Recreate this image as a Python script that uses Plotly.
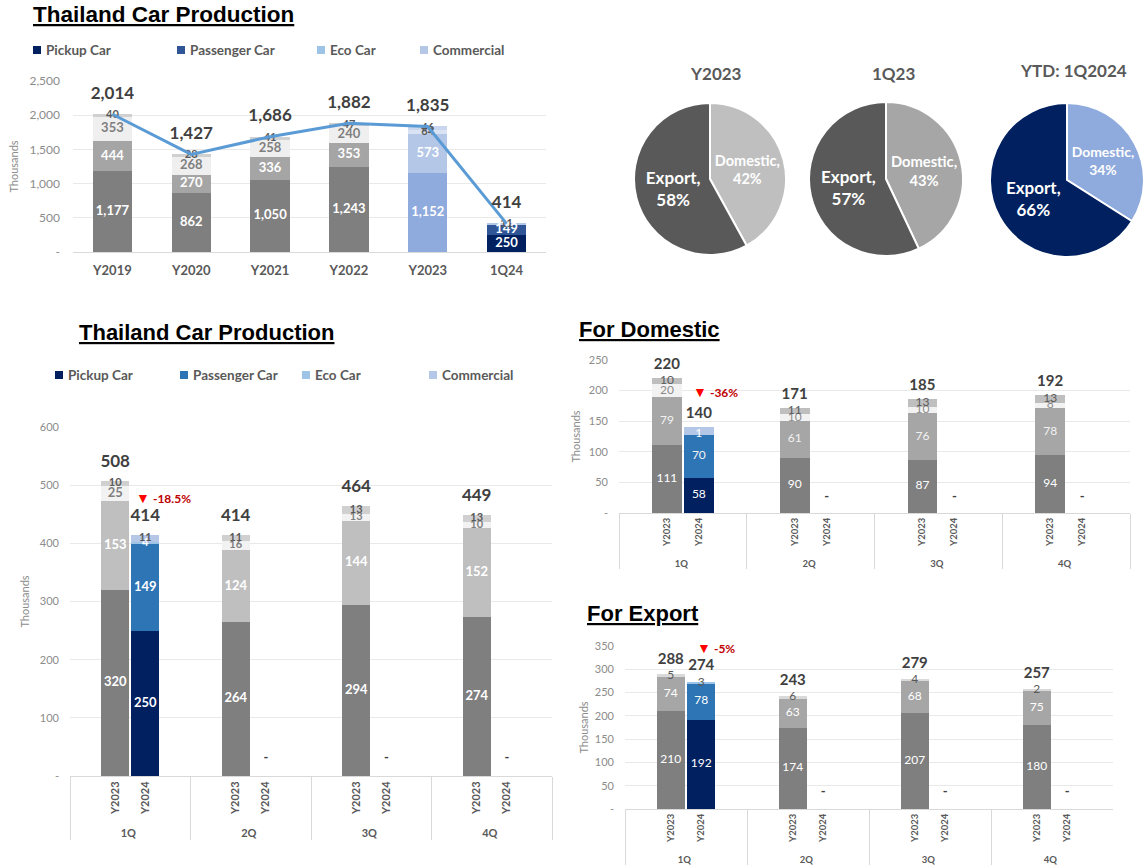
import plotly.graph_objects as go

# figure fills the whole 1145x868 window (body margin removed after plotting)
OX, OY = 0, 0
FW, FH = 1145, 868
FONT = "Lato"
TITLE_FONT = "Liberation Sans"

# ---------------- data ----------------
ANNUAL_CATS = ["Y2019", "Y2020", "Y2021", "Y2022", "Y2023", "1Q24"]
annual_pickup = [1177, 862, 1050, 1243, 1152, 250]
annual_passenger = [444, 270, 336, 353, 573, 149]
annual_eco = [353, 268, 258, 240, 64, 4]
annual_commercial = [40, 28, 41, 47, 46, 11]
annual_total = [2014, 1427, 1686, 1882, 1835, 414]
annual_yticks = [0, 500, 1000, 1500, 2000, 2500]
annual_yticktext = ["-", "500", "1,000", "1,500", "2,000", "2,500"]

QUARTERS = ["1Q", "2Q", "3Q", "4Q"]
YEARS = ["Y2023", "Y2024"]

prod_pickup_2023 = [320, 264, 294, 274]
prod_pickup_2024 = [250, 0, 0, 0]
prod_passenger_2023 = [153, 124, 144, 152]
prod_passenger_2024 = [149, 0, 0, 0]
prod_eco_2023 = [25, 16, 13, 10]
prod_eco_2024 = [4, 0, 0, 0]
prod_commercial_2023 = [10, 11, 13, 13]
prod_commercial_2024 = [11, 0, 0, 0]
prod_total_2023 = [508, 414, 464, 449]
prod_total_2024 = [414, None, None, None]
prod_yticks = [0, 100, 200, 300, 400, 500, 600]
prod_yticktext = ["-", "100", "200", "300", "400", "500", "600"]

dom_pickup_2023 = [111, 90, 87, 94]
dom_pickup_2024 = [58, 0, 0, 0]
dom_passenger_2023 = [79, 61, 76, 78]
dom_passenger_2024 = [70, 0, 0, 0]
dom_eco_2023 = [20, 10, 10, 8]
dom_eco_2024 = [1, 0, 0, 0]
dom_commercial_2023 = [10, 11, 13, 13]
dom_commercial_2024 = [11, 0, 0, 0]
dom_total_2023 = [220, 171, 185, 192]
dom_total_2024 = [140, None, None, None]
dom_yticks = [0, 50, 100, 150, 200, 250]
dom_yticktext = ["-", "50", "100", "150", "200", "250"]

exp_pickup_2023 = [210, 174, 207, 180]
exp_pickup_2024 = [192, 0, 0, 0]
exp_passenger_2023 = [74, 63, 68, 75]
exp_passenger_2024 = [78, 0, 0, 0]
exp_other_2023 = [5, 6, 4, 2]
exp_other_2024 = [3, 0, 0, 0]
exp_total_2023 = [288, 243, 279, 257]
exp_total_2024 = [274, None, None, None]
exp_yticks = [0, 50, 100, 150, 200, 250, 300, 350]
exp_yticktext = ["-", "50", "100", "150", "200", "250", "300", "350"]

PIE_LABELS = ["Domestic", "Export"]
PIE_TITLES = ["Y2023", "1Q23", "YTD: 1Q2024"]
pie_y2023 = [42, 58]
pie_1q23 = [43, 57]
pie_ytd_1q24 = [34, 66]

SERIES_NAMES = ["Pickup Car", "Passenger Car", "Eco Car", "Commercial"]
LEGEND1_COLORS = ["#002060", "#2f5597", "#9dc3e6", "#b4c7e7"]
LEGEND2_COLORS = ["#002060", "#2e75b6", "#9dc3e6", "#b4c7e7"]

CHANGE_PROD = "-18.5%"
CHANGE_DOM = "-36%"
CHANGE_EXP = "-5%"


# ---------------- helpers (reference pixels -> paper) ----------------
def px(x):
    return (x - OX) / FW


def py(y):
    return 1 - (y - OY) / FH


def dx(a, b):
    return [max(0.0, px(a)), min(1.0, px(b))]


def dy(top, bottom):
    return [max(0.0, py(bottom)), min(1.0, py(top))]


fig = go.Figure()


def add_stack(xa, ya, x, series, width, lsize, lweight, small, hide=()):
    n = len(series[0][0])
    base = [0] * n
    for k, (vals, cols, lcols) in enumerate(series):
        fig.add_trace(go.Bar(
            x=x, y=vals, width=width, xaxis=xa, yaxis=ya,
            marker=dict(color=cols, line=dict(width=0)),
            showlegend=False, hoverinfo="skip"))
        mids = [b + (v or 0) / 2 for b, v in zip(base, vals)]
        texts = [f"{v:,}" if v else "" for v in vals]
        sizes = [lsize if (v or 0) >= small else lsize - 2 for v in vals]
        for (si, ii) in hide:
            if si == k:
                texts[ii] = ""
        fig.add_trace(go.Scatter(
            x=x, y=mids, mode="text", text=texts, xaxis=xa, yaxis=ya, cliponaxis=False,
            textfont=dict(color=lcols, size=sizes, family=FONT, weight=lweight),
            showlegend=False, hoverinfo="skip"))
        base = [b + (v or 0) for b, v in zip(base, vals)]


def add_totals(xa, ya, x, totals, size, lift):
    fig.add_trace(go.Scatter(
        x=x, y=totals, mode="markers+text", textposition="top center", cliponaxis=False,
        marker=dict(size=lift, color="rgba(0,0,0,0)"),
        text=[f"{t:,}" if t is not None else "" for t in totals],
        textfont=dict(color="#404040", size=size, family=FONT, weight="bold"),
        xaxis=xa, yaxis=ya, showlegend=False, hoverinfo="skip"))


# ---------------- top-left annual chart ----------------
nA = len(ANNUAL_CATS)
g4 = nA - 2
annual_series = [
    (annual_pickup, ["#7f7f7f"] * g4 + ["#8faadc", "#002060"], ["white"] * nA),
    (annual_passenger, ["#a5a5a5"] * g4 + ["#b4c7e7", "#2f5597"], ["white"] * nA),
    (annual_eco, ["#efefef"] * g4 + ["#dae3f3", "#9dc3e6"], ["#7f7f7f"] * g4 + ["#595959", "white"]),
    (annual_commercial, ["#d0d0d0"] * g4 + ["#c9d6ee", "#b4c7e7"], ["#595959"] * nA),
]
add_stack("x", "y", ANNUAL_CATS, annual_series, 0.5, 13, "bold", 100, hide=((2, nA - 1),))
fig.add_trace(go.Scatter(x=ANNUAL_CATS, y=annual_total, mode="lines",
                         line=dict(color="#5b9bd5", width=3),
                         xaxis="x", yaxis="y", showlegend=False, hoverinfo="skip"))
add_totals("x", "y", ANNUAL_CATS, annual_total, 17, 16)

# ---------------- quarterly charts (multicategory) ----------------
pad_outer = [q for q in QUARTERS for _ in range(4)]
pad_inner = [" ", YEARS[0], YEARS[1], "  "] * len(QUARTERS)
qx = [QUARTERS + QUARTERS, [YEARS[0]] * 4 + [YEARS[1]] * 4]
zero_x = [QUARTERS[1:], [YEARS[1]] * 3]

quarter_charts = [
    ("x2", "y2", [
        (prod_pickup_2023 + prod_pickup_2024, ["#7f7f7f"] * 4 + ["#002060"] * 4, ["white"] * 8),
        (prod_passenger_2023 + prod_passenger_2024, ["#bfbfbf"] * 4 + ["#2e75b6"] * 4, ["white"] * 8),
        (prod_eco_2023 + prod_eco_2024, ["#f2f2f2"] * 4 + ["#9dc3e6"] * 4, ["#7f7f7f"] * 4 + ["white"] * 4),
        (prod_commercial_2023 + prod_commercial_2024, ["#d0d0d0"] * 4 + ["#b4c7e7"] * 4, ["#595959"] * 8),
    ], prod_total_2023 + prod_total_2024, 13, "bold", 17, 14, 600, 0.05, 20, ()),
    ("x3", "y3", [
        (dom_pickup_2023 + dom_pickup_2024, ["#7f7f7f"] * 4 + ["#002060"] * 4, ["white"] * 8),
        (dom_passenger_2023 + dom_passenger_2024, ["#a6a6a6"] * 4 + ["#2e75b6"] * 4, ["#f2f2f2"] * 8),
        (dom_eco_2023 + dom_eco_2024, ["#f2f2f2"] * 4 + ["#b4c7e7"] * 4, ["#8c8c8c"] * 4 + ["white"] * 4),
        (dom_commercial_2023 + dom_commercial_2024, ["#bfbfbf"] * 4 + ["#b4c7e7"] * 4, ["#595959"] * 8),
    ], dom_total_2023 + dom_total_2024, 12, "normal", 15, 8, 250, 0.1, 0, ((3, 4),)),
    ("x4", "y4", [
        (exp_pickup_2023 + exp_pickup_2024, ["#7f7f7f"] * 4 + ["#002060"] * 4, ["white"] * 8),
        (exp_passenger_2023 + exp_passenger_2024, ["#a6a6a6"] * 4 + ["#2e75b6"] * 4, ["white"] * 8),
        (exp_other_2023 + exp_other_2024, ["#d9d9d9"] * 4 + ["#9dc3e6"] * 4, ["#595959"] * 8),
    ], exp_total_2023 + exp_total_2024, 12, "normal", 15, 10, 350, 0.1, 0, ()),
]

for xa, ya, series, totals, lsize, lweight, tsize, lift, ymax, dash_frac, small, hide in quarter_charts:
    fig.add_trace(go.Scatter(x=[pad_outer, pad_inner], y=[None] * len(pad_outer),
                             mode="markers", xaxis=xa, yaxis=ya,
                             showlegend=False, hoverinfo="skip"))
    add_stack(xa, ya, qx, series, 0.93, lsize, lweight, small, hide)
    add_totals(xa, ya, qx, totals, tsize, lift)
    fig.add_trace(go.Scatter(x=zero_x, y=[ymax * dash_frac] * 3, mode="text",
                             text=["-"] * 3, cliponaxis=False,
                             textfont=dict(color="#404040", size=13, family=FONT, weight="bold"),
                             xaxis=xa, yaxis=ya, showlegend=False, hoverinfo="skip"))

# ---------------- pies ----------------
pie_specs = [
    (pie_y2023, ["#bfbfbf", "#595959"], (710, 179, 76)),
    (pie_1q23, ["#a6a6a6", "#595959"], (886, 179, 77)),
    (pie_ytd_1q24, ["#8faadc", "#002060"], (1067, 180, 77)),
]
for vals, cols, (cx, cy, r) in pie_specs:
    fig.add_trace(go.Pie(
        labels=PIE_LABELS, values=vals, sort=False, direction="clockwise", rotation=0,
        domain=dict(x=dx(cx - r, cx + r), y=dy(cy - r, cy + r)),
        marker=dict(colors=cols, line=dict(color="white", width=2)),
        texttemplate="%{label},<br>%{value}%", textposition="inside",
        insidetextorientation="horizontal",
        textfont=dict(color="white", size=17, family=FONT, weight="bold"),
        showlegend=False, hoverinfo="skip"))

# ---------------- axes ----------------
tickfont_y = dict(size=11, color="#8c8c8c", family=FONT)
grid = "#e9e9e9"


def ytitle(standoff):
    return dict(text="Thousands", standoff=standoff,
                font=dict(size=11, color="#8c8c8c", family=FONT))


fig.update_layout(
    width=FW, height=FH,
    margin=dict(l=0, r=0, t=0, b=0, pad=0, autoexpand=False),
    paper_bgcolor="white", plot_bgcolor="white",
    barmode="stack", showlegend=False,
    font=dict(family=FONT, color="#595959"),
    xaxis=dict(domain=dx(73, 546), type="category", range=[-0.5, nA - 0.5],
               showline=True, linecolor="#d9d9d9", ticks="", automargin=False,
               ticklabelstandoff=6,
               tickfont=dict(size=13, color="#595959", family=FONT, weight="bold"),
               showgrid=False, fixedrange=True),
    yaxis=dict(domain=dy(81, 252), range=[0, 2500], tickvals=annual_yticks,
               ticktext=annual_yticktext, gridcolor=grid, zeroline=False, automargin=False,
               tickfont=dict(size=12, color="#8c8c8c", family=FONT),
               ticklabelstandoff=12, title=ytitle(8), anchor="x"),
)

for xa, ya, xdom, ydom, ymax, tv, tt, ts, xfs in [
    ("xaxis2", "yaxis2", dx(70, 552), dy(427, 776), 600, prod_yticks, prod_yticktext, 8, 11),
    ("xaxis3", "yaxis3", dx(619, 1130), dy(360, 513), 250, dom_yticks, dom_yticktext, 6, 9.5),
    ("xaxis4", "yaxis4", dx(625, 1113), dy(646, 809), 350, exp_yticks, exp_yticktext, 4, 9.5),
]:
    n = xa[-1]
    fig.update_layout({
        xa: dict(domain=xdom, type="multicategory", range=[-0.5, 15.5], anchor="y" + n,
                 showline=True, linecolor="#d9d9d9", ticks="", tickangle=-90,
                 showdividers=True, dividercolor="#d9d9d9", dividerwidth=1,
                 automargin=False,
                 tickfont=dict(size=xfs, color="#595959", family=FONT, weight="bold"),
                 showgrid=False),
        ya: dict(domain=ydom, range=[0, ymax], tickvals=tv, ticktext=tt, anchor="x" + n,
                 gridcolor=grid, zeroline=False, tickfont=tickfont_y, automargin=False,
                 ticklabelstandoff=10, title=ytitle(ts)),
    })

# ---------------- legends (colour squares + names) ----------------
shapes = []
annotations = []


def legend_row(y, square_xs, colors, size):
    for name, col, sx in zip(SERIES_NAMES, colors, square_xs):
        shapes.append(dict(type="rect", xref="paper", yref="paper",
                           x0=px(sx - 4), x1=px(sx + 4), y0=py(y + 4), y1=py(y - 4),
                           fillcolor=col, line=dict(width=0)))
        annotations.append(dict(text=name, x=px(sx + 7), y=py(y), xref="paper", yref="paper",
                                xanchor="left", yanchor="middle", showarrow=False,
                                font=dict(size=size, color="#595959", family=FONT, weight="bold")))


legend_row(50, [37, 181, 321, 424], LEGEND1_COLORS, 13.5)
legend_row(375, [59, 184, 306, 433], LEGEND2_COLORS, 13.5)


def title_ann(text, x, y, size):
    return dict(text=f"<b>{text}</b>", x=px(x), y=py(y), xref="paper", yref="paper",
                xanchor="left", yanchor="middle", showarrow=False,
                font=dict(size=size, color="black", family=TITLE_FONT, lineposition="under"))


def pie_title(text, x, y):
    return dict(text=f"<b>{text}</b>", x=px(x), y=py(y), xref="paper", yref="paper",
                xanchor="center", yanchor="middle", showarrow=False,
                font=dict(size=17, color="#595959", family=FONT))


def change_ann(text, x, y, size):
    return dict(text=f"<span style='color:#ff0000;font-size:14px'>▼</span> <b>{text}</b>",
                x=px(x), y=py(y), xref="paper", yref="paper",
                xanchor="left", yanchor="middle", showarrow=False,
                font=dict(size=size, color="#c00000", family=FONT))


annotations += [
    title_ann("Thailand Car Production", 31, 15, 22.5),
    title_ann("Thailand Car Production", 77, 332, 22),
    title_ann("For Domestic", 577, 329, 22),
    title_ann("For Export", 585, 613, 22),
    pie_title(PIE_TITLES[0], 716, 73),
    pie_title(PIE_TITLES[1], 893, 73),
    pie_title(PIE_TITLES[2], 1073, 70),
    change_ann(CHANGE_PROD, 134, 497, 12),
    change_ann(CHANGE_DOM, 691, 391, 12),
    change_ann(CHANGE_EXP, 695, 647, 12),
]
fig.update_layout(shapes=shapes, annotations=annotations)

fig.write_html("out.html", config={"displayModeBar": False},
               post_script="document.body.style.margin='0';")
